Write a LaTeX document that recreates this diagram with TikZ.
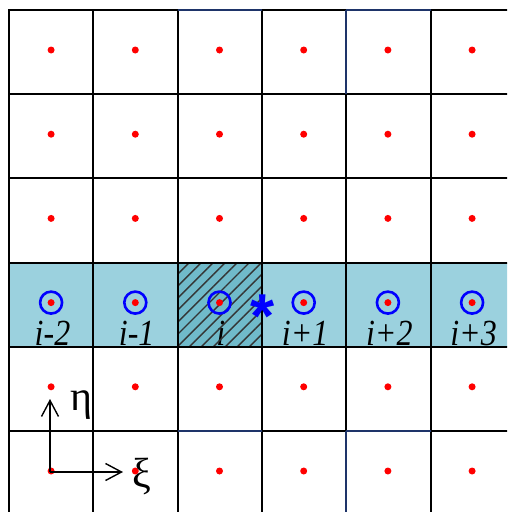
\documentclass[tikz,border=0pt]{standalone}
\usepackage{fontspec}
\usepackage{graphicx}
\setmainfont{Liberation Serif}
\newfontfamily\starfont{Liberation Sans}
\usetikzlibrary{patterns.meta,arrows.meta}
\definecolor{bandcol}{RGB}{155,209,222}
\definecolor{hatchcol}{RGB}{112,186,202}
\definecolor{edgeblue}{RGB}{30,52,105}
\newcommand{\tallidx}[1]{\scalebox{1}[1.15]{#1}}
\begin{document}
\begin{tikzpicture}[x=1pt,y=-1pt,
  gridline/.style={line width=2pt,black},
  blueline/.style={line width=2pt,edgeblue},
  dotnode/.style={circle,fill=red,inner sep=0pt,minimum size=7pt},
  ringnode/.style={circle,draw=blue,line width=2.6pt,inner sep=0pt,minimum size=22pt},
  idxlabel/.style={font=\fontsize{32}{32}\selectfont\itshape,inner sep=0pt,anchor=base},
  axisarrow/.style={line width=1.4pt,-{Straight Barb[length=16pt,width=17pt]}},
  axislabel/.style={font=\fontsize{42}{42}\selectfont,inner sep=0pt}]
\useasboundingbox (0,0) rectangle (507,512);
\clip (0,0) rectangle (507,512);
% band
\fill[bandcol] (9,262.6) rectangle (520,346.8);
\fill[hatchcol] (177.6,262.6) rectangle (262,346.8);
% labels of the band
\foreach \k/\t [count=\n from 0] in {0/i-2,1/i-1,2/i,3/i+1,4/i+2,5/i+3}{
  \node[idxlabel] (lab\n) at (52.5+84.2*\k,345) {\tallidx{\t}};
}
\pattern[pattern={Lines[angle=45,distance=8.5pt,line width=1.4pt]},pattern color=black!80] (177.6,262.6) rectangle (262,346.8);
% grid
\foreach \x in {9,93.3,177.6,262,346.3,430.6}{
  \draw[gridline] (\x,9) -- (\x,520);
}
\foreach \y in {10,94.2,178.4,262.6,346.8,431}{
  \draw[gridline] (8,\y) -- (520,\y);
}
\draw[blueline] (177.6,10) -- (262,10);
\draw[blueline] (346.3,10) -- (430.6,10);
\draw[blueline] (346.3,10) -- (346.3,94.2);
\draw[blueline] (177.6,431) -- (262,431);
\draw[blueline] (346.3,431) -- (346.3,520);
\draw[blueline] (346.3,431) -- (430.6,431);
% dots
\foreach \r in {0,...,5}{
  \foreach \c in {0,...,5}{
    \node[dotnode] (d\r\c) at (51.1+84.2*\c,50+84.2*\r) {};
  }
}
% rings
\foreach \c in {0,...,5}{
  \node[ringnode] (ring\c) at (d3\c) {};
}
% asterisk
\node[text=blue,font=\starfont\bfseries\fontsize{62}{62}\selectfont,inner sep=0pt,anchor=base] (star) at (262.5,337) {*};
% axes
\coordinate (origin) at (50,472);
\coordinate (etaend) at (50,399);
\coordinate (xiend) at (123,472);
\draw[axisarrow] (origin) -- (etaend);
\draw[axisarrow] (origin) -- (xiend);
\node[axislabel] (eta) at (81,405) {η};
\node[axislabel] (xi) at (142,477) {ξ};
\end{tikzpicture}
\end{document}
